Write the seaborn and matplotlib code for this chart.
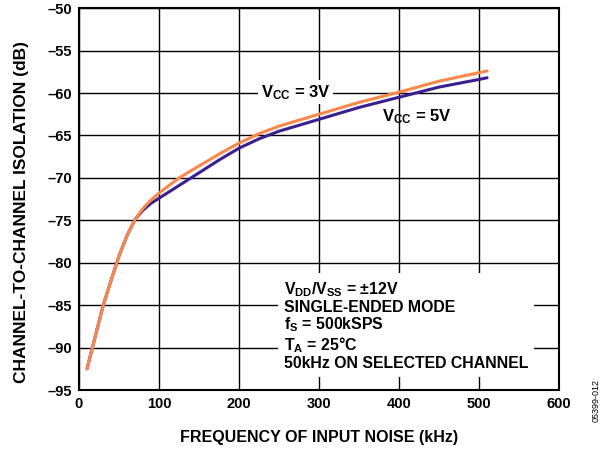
import pandas as pd
import matplotlib
matplotlib.use("Agg")
import matplotlib.pyplot as plt
import seaborn as sns

# values
freq_khz = [10, 20, 30, 40, 50, 60, 70, 80, 90, 100, 125, 150, 175, 200, 225, 250,
            300, 350, 400, 450, 500, 510]
iso_3v = [-92.5, -88.8, -85.1, -82.1, -79.2, -76.8, -74.9, -73.6, -72.6, -71.8, -70.0, -68.6,
          -67.2, -65.9, -64.8, -63.9, -62.5, -61.1, -59.9, -58.6, -57.6, -57.4]
iso_5v = [-92.5, -88.8, -85.1, -82.1, -79.2, -76.8, -74.9, -73.8, -73.0, -72.4, -70.9, -69.4,
          -67.9, -66.5, -65.4, -64.5, -63.1, -61.7, -60.5, -59.3, -58.4, -58.2]

x_ticks = [0, 100, 200, 300, 400, 500, 600]
y_ticks = [-95, -90, -85, -80, -75, -70, -65, -60, -55, -50]

df = pd.DataFrame({"freq": freq_khz * 2,
                   "iso": iso_5v + iso_3v,
                   "vcc": ["5V"] * len(freq_khz) + ["3V"] * len(freq_khz)})

sns.set_style("white")
plt.rcParams["font.family"] = ["Liberation Sans", "DejaVu Sans"]
plt.rcParams["mathtext.fontset"] = "custom"
plt.rcParams["mathtext.bf"] = "Liberation Sans:bold"
plt.rcParams["mathtext.rm"] = "Liberation Sans:bold"
plt.rcParams["mathtext.default"] = "bf"
plt.rcParams["text.color"] = "black"

fig = plt.figure(figsize=(6.1, 4.53), dpi=100)
ax = fig.add_axes([0.1295, 0.139, 0.787, 0.843])

sns.lineplot(data=df, x="freq", y="iso", hue="vcc",
             palette={"5V": "#3b1f8f", "3V": "#f8894a"},
             linewidth=2.2, legend=False, ax=ax, zorder=3)

ax.set_xlim(0, 600)
ax.set_ylim(-95, -50)
ax.set_xticks(x_ticks)
ax.set_yticks(y_ticks)
ax.set_xticklabels([str(t) for t in x_ticks], fontweight="bold", fontsize=10.5, color="black")
ax.set_yticklabels([str(t).replace("-", "\u2013") for t in y_ticks], fontweight="bold",
                   fontsize=10.5, color="black")
ax.tick_params(length=0, pad=5)
ax.grid(True, color="black", linewidth=1)
for s in ax.spines.values():
    s.set_color("black")
    s.set_linewidth(1.5)

ax.set_xlabel("FREQUENCY OF INPUT NOISE (kHz)", fontweight="bold", fontsize=11.5,
              color="black", labelpad=14)
ax.set_ylabel("CHANNEL-TO-CHANNEL ISOLATION (dB)", fontweight="bold", fontsize=12.5,
              color="black")
ax.yaxis.set_label_coords(-0.104, 0.466)

box = dict(facecolor="white", edgecolor="none", pad=2)
ax.text(271, -59.9, "V$_{CC}$ = 3V", fontweight="bold", fontsize=12,
        ha="center", va="center", bbox=box, zorder=4)
ax.text(422, -62.8, "V$_{CC}$ = 5V", fontweight="bold", fontsize=12,
        ha="center", va="center", zorder=4)

notes = ("V$_{DD}$/V$_{SS}$ = \u00b112V\nSINGLE-ENDED MODE\nf$_{S}$ = 500kSPS\n"
         "T$_{A}$ = 25\u00b0C\n50kHz ON SELECTED CHANNEL")
ax.text(256, -87.4, notes, fontweight="bold", fontsize=11.4, ha="left", va="center",
        linespacing=1.08, bbox=dict(facecolor="white", edgecolor="none", pad=4), zorder=4)

fig.text(0.978, 0.115, "05399-012", rotation=90, fontsize=6.5, ha="center", va="center")

fig.savefig("out.png", dpi=100)
